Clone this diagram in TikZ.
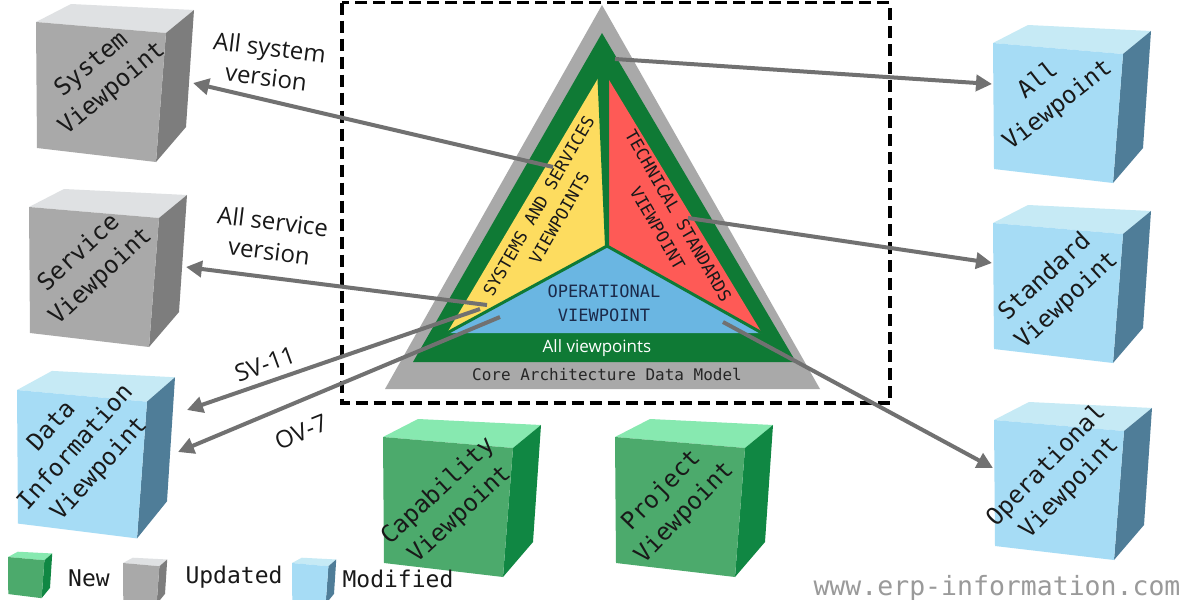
\documentclass[tikz,border=0pt]{standalone}
\usepackage{fontspec}
\usetikzlibrary{arrows.meta}
\newfontfamily\mono{DejaVu Sans Mono}
\newfontfamily\osans{Open Sans}
\definecolor{gtri}{HTML}{A9A9A9}
\definecolor{dgreen}{HTML}{0F7A35}
\definecolor{yel}{HTML}{FDDC5F}
\definecolor{redr}{HTML}{FE5A56}
\definecolor{blu}{HTML}{6AB6E2}
\definecolor{navy}{HTML}{1B2A4A}
\definecolor{arrowc}{HTML}{717171}
\definecolor{cytop}{HTML}{DFE1E3}
\definecolor{cyside}{HTML}{7D7D7D}
\definecolor{cyfront}{HTML}{A9A9A9}
\definecolor{cbtop}{HTML}{C6EAF5}
\definecolor{cbside}{HTML}{4F7D98}
\definecolor{cbfront}{HTML}{A6DCF5}
\definecolor{cgtop}{HTML}{87E9B0}
\definecolor{cgside}{HTML}{108743}
\definecolor{cgfront}{HTML}{4CAA6C}
\definecolor{wmark}{HTML}{9A9A9A}
\newcommand\drawcube[5]{%
\begin{scope}[shift={(#1,#2)},scale=#3,yscale=#5]
 \fill[#4top] (0,0) -- (35,-18) -- (158,-12) -- (130,11) -- cycle;
 \fill[#4side] (130,11) -- (158,-12) -- (150,105) -- (120,140) -- cycle;
 \fill[#4front] (0,0) -- (130,11) -- (120,140) -- (1,126) -- cycle;
\end{scope}}
\tikzset{
 conn/.style={draw=arrowc, line width=4pt, -{Triangle[length=16pt,width=16pt]}},
 cubetxt/.style={font=\mono\fontsize{24}{32}\selectfont, align=center, inner sep=0pt, text=black!90},
 tritxt/.style={font=\mono\fontsize{17}{24}\selectfont, align=center, inner sep=0pt, text=black!90},
 lbl/.style={font=\osans\fontsize{24}{30}\selectfont, align=center, inner sep=0pt, text=black!90},
 legtxt/.style={font=\mono\fontsize{23}{28}\selectfont, inner sep=0pt, text=black!90},
}
\begin{document}
\begin{tikzpicture}[x=1pt,y=-1pt]
\useasboundingbox (0,0) rectangle (1200,600);
\fill[white] (0,0) rectangle (1200,600);

% dashed frame
\draw[line width=3.5pt, dash pattern=on 12pt off 6pt] (342,2.5) rectangle (890,403);

% pyramid
\fill[gtri] (602,5) -- (820,389) -- (385,389) -- cycle;
\fill[dgreen] (602,33) -- (796,362) -- (413,362) -- cycle;
\coordinate (T) at (603,70);
\coordinate (L) at (447,333);
\coordinate (R) at (762,333);
\coordinate (C) at (607,246);
\fill[yel] (T) -- (C) -- (L) -- cycle;
\fill[redr] (T) -- (R) -- (C) -- cycle;
\fill[blu] (L) -- (C) -- (R) -- cycle;
\fill[dgreen] (597,68) -- (609,68) -- (609,246) -- (605,246) -- cycle;
\draw[dgreen, line width=3pt] (C) -- (L) (C) -- (R);

\node[tritxt, text=navy] (op) at (604,303) {OPERATIONAL\\VIEWPOINT};
\node[tritxt, rotate=60] (ss) at (549,212) {SYSTEMS AND SERVICES\\VIEWPOINTS};
\node[tritxt, rotate=-60] (ts) at (668,222) {TECHNICAL STANDARDS\\VIEWPOINT};
\node[font=\osans\fontsize{17}{20}\selectfont, text=white, inner sep=0pt] (allv) at (597,348) {All viewpoints};
\node[font=\mono\fontsize{16}{20}\selectfont, text=black!85, inner sep=0pt] (cadm) at (607,374) {Core Architecture Data Model};

% cubes
\drawcube{36}{22}{1}{cy}{1}
\drawcube{29}{207}{1}{cy}{1}
\drawcube{17}{390}{1}{cb}{1.06}
\drawcube{993}{43}{1}{cb}{1}
\drawcube{993}{223}{1}{cb}{1}
\drawcube{994}{420}{1}{cb}{1}
\drawcube{383}{437}{1}{cg}{1}
\drawcube{615}{437}{1}{cg}{1}

\node[cubetxt, rotate=40] (sysv) at (102,77) {System\\Viewpoint};
\node[cubetxt, rotate=43] (serv) at (90,265) {Service\\Viewpoint};
\node[cubetxt, rotate=48] (datv) at (76,448) {Data\\Information\\Viewpoint};
\node[cubetxt, rotate=38] (allvp) at (1048,93) {All\\Viewpoint};
\node[cubetxt, rotate=43] (stdv) at (1056,289) {Standard\\Viewpoint};
\node[cubetxt, rotate=46] (opv) at (1058,477) {Operational\\Viewpoint};
\node[cubetxt, rotate=43] (capv) at (449,503) {Capability\\Viewpoint};
\node[cubetxt, rotate=46] (prov) at (673,502) {Project\\Viewpoint};

% connectors
\coordinate (a1s) at (615,59);   \coordinate (a1e) at (992,84);
\coordinate (a2s) at (688,218);  \coordinate (a2e) at (992,263);
\coordinate (a3s) at (723,322);  \coordinate (a3e) at (993,468);
\coordinate (a4s) at (553,167);  \coordinate (a4e) at (193,83);
\coordinate (a5s) at (487,305);  \coordinate (a5e) at (186,267);
\coordinate (a6s) at (480,309);  \coordinate (a6e) at (187,410);
\coordinate (a7s) at (500,317);  \coordinate (a7e) at (178,452);
\draw[conn] (a1s) -- (a1e);
\draw[conn] (a2s) -- (a2e);
\draw[conn] (a3s) -- (a3e);
\draw[conn] (a4s) -- (a4e);
\draw[conn] (a5s) -- (a5e);
\draw[conn] (a6s) -- (a6e);
\draw[conn] (a7s) -- (a7e);

% labels
\node[lbl, rotate=-7] (l1) at (268,62) {All system\\version};
\node[lbl, rotate=-7] (l2) at (271,236) {All service\\version};
\node[lbl, rotate=20] (l3) at (265,364) {SV-11};
\node[lbl, rotate=22] (l4) at (301,432) {OV-7};

% legend
\drawcube{8}{557}{0.28}{cg}{1.05}
\drawcube{123}{563}{0.28}{cy}{1.05}
\drawcube{292}{563}{0.28}{cb}{1.05}
\node[legtxt] (lnew) at (89,578) {New};
\node[legtxt] (lupd) at (234,577) {Updated};
\node[legtxt] (lmod) at (398,579) {Modified};

\node[font=\mono\fontsize{26.5}{30}\selectfont, text=wmark, inner sep=0pt] (wm) at (997,588) {www.erp-information.com};
\end{tikzpicture}
\end{document}
